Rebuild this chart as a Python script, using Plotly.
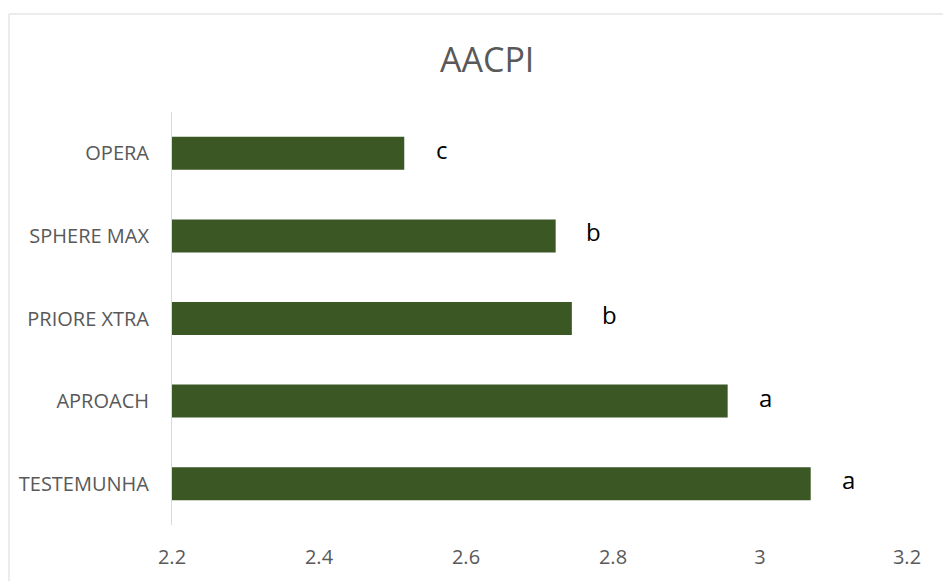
import plotly.graph_objects as go

categories = ["TESTEMUNHA", "APROACH", "PRIORE XTRA", "SPHERE MAX", "OPERA"]
values = [3.069, 2.956, 2.744, 2.722, 2.516]
letters = ["a", "a", "b", "b", "c"]
x_ticks = [2.2, 2.4, 2.6, 2.8, 3.0, 3.2]
x_tick_text = ["2.2", "2.4", "2.6", "2.8", "3", "3.2"]

# page body adds an 8px offset, so the figure is sized to fit the window
W, H = 943, 573
L, R, T, B = 164, 44, 104, 56
PW, PH = W - L - R, H - T - B

fig = go.Figure()
fig.add_trace(go.Bar(
    y=categories, x=values, orientation="h",
    marker=dict(color="#3B5724", line=dict(width=0)),
    width=0.4, showlegend=False,
))

for cat, v, lt in zip(categories, values, letters):
    fig.add_annotation(x=v, y=cat, xref="x", yref="y", text=lt, showarrow=False,
                       xshift=38, yshift=4, xanchor="center", yanchor="middle",
                       font=dict(family="Open Sans", size=24, color="#000000"))

fig.add_annotation(x=(479 - L) / PW, y=1 + (T - 51) / PH, xref="paper", yref="paper",
                   text="AACPI", showarrow=False, xanchor="center", yanchor="middle",
                   font=dict(family="Open Sans", size=34, color="#595959"))

fig.add_shape(type="rect", xref="paper", yref="paper",
              x0=-(L - 1) / PW, x1=1 + (R + 20) / PW,
              y0=-(B + 20) / PH, y1=1 + (T - 6) / PH,
              line=dict(color="#d9d9d9", width=1), layer="below")

fig.update_layout(
    width=W, height=H,
    margin=dict(l=L, r=R, t=T, b=B, autoexpand=False),
    paper_bgcolor="white", plot_bgcolor="white",
    font=dict(family="Open Sans", color="#595959", size=20),
    xaxis=dict(range=[2.2, 3.2], tickvals=x_ticks, ticktext=x_tick_text,
               showgrid=False, zeroline=False, showline=False, ticks="",
               ticklabelstandoff=18, tickfont=dict(size=20, color="#595959")),
    yaxis=dict(showgrid=False, zeroline=False, showline=True, linecolor="#d9d9d9", linewidth=1,
               ticks="", ticklabelstandoff=18, tickfont=dict(size=20, color="#595959"),
               categoryorder="array", categoryarray=categories),
    bargap=0.6,
)

fig.write_html("out.html")
